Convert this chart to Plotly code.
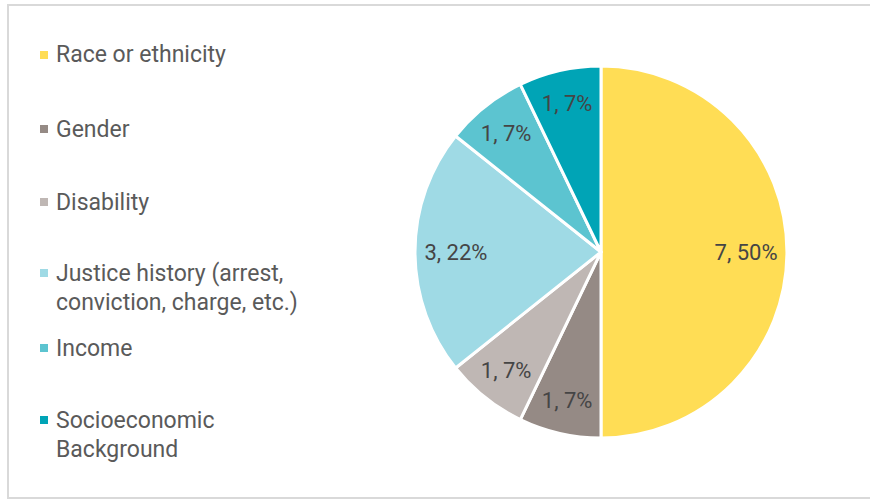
import plotly.graph_objects as go

categories = ["Race or ethnicity", "Gender", "Disability",
              "Justice history (arrest, conviction, charge, etc.)",
              "Income", "Socioeconomic Background"]
legend_lines = [["Race or ethnicity"], ["Gender"], ["Disability"],
                ["Justice history (arrest,", "conviction, charge, etc.)"],
                ["Income"], ["Socioeconomic", "Background"]]
counts = [7, 1, 1, 3, 1, 1]
pct_labels = ["50%", "7%", "7%", "22%", "7%", "7%"]
colors = ["#FFDD55", "#958A85", "#BFB7B4", "#9FDAE5", "#5CC4D0", "#00A4B6"]

W, H = 870, 500
FONT = "Roboto"
dom = dict(x=[415 / W, 787 / W], y=[1 - 438 / H, 1 - 66 / H])

fig = go.Figure()
# Slices
fig.add_trace(go.Pie(
    labels=categories,
    values=counts,
    textinfo="none",
    sort=False,
    direction="clockwise",
    rotation=0,
    marker=dict(colors=colors, line=dict(color="white", width=3)),
    domain=dom,
    showlegend=False,
    hoverinfo="label+value+percent",
))
# Data labels placed in an outer ring (like the reference's label radius)
fig.add_trace(go.Pie(
    labels=categories,
    values=counts,
    text=[f"{c}, {p}" for c, p in zip(counts, pct_labels)],
    textinfo="text",
    textposition="inside",
    insidetextorientation="horizontal",
    hole=0.56,
    sort=False,
    direction="clockwise",
    rotation=0,
    marker=dict(colors=["rgba(0,0,0,0)"] * len(counts), line=dict(width=0)),
    textfont=dict(family=FONT, size=22, color="#454545"),
    domain=dom,
    showlegend=False,
    hoverinfo="skip",
))

# Manual legend (large spacing as in reference)
first_line_y = [55, 129, 202, 273, 348, 420]
line_gap = 29
shapes = [dict(type="rect", xref="paper", yref="paper",
               x0=8 / W, x1=1.2, y0=1 - 498 / H, y1=1 - 5 / H,
               line=dict(color="#D9D9D9", width=2), fillcolor="rgba(0,0,0,0)")]
annotations = []
for lines, col, y in zip(legend_lines, colors, first_line_y):
    shapes.append(dict(type="rect", xref="paper", yref="paper",
                       x0=40 / W, x1=48 / W, y0=1 - (y + 4) / H, y1=1 - (y - 4) / H,
                       line=dict(width=0), fillcolor=col))
    for i, ln in enumerate(lines):
        annotations.append(dict(
            text=ln, xref="paper", yref="paper",
            x=54 / W, y=1 - (y + i * line_gap) / H,
            xanchor="left", yanchor="middle", showarrow=False,
            font=dict(family=FONT, size=23, color="#5A5A5A")))

fig.update_layout(
    width=W, height=H,
    margin=dict(l=0, r=0, t=0, b=0),
    paper_bgcolor="white",
    plot_bgcolor="white",
    shapes=shapes,
    annotations=annotations,
)

fig.write_html("out.html", config={"displayModeBar": False},
               post_script="document.body.style.margin='0';")
